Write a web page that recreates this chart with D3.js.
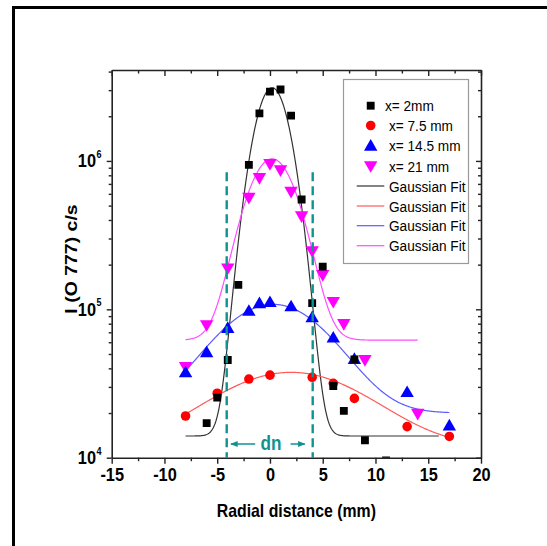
<!DOCTYPE html>
<html><head><meta charset="utf-8">
<script src="https://cdn.jsdelivr.net/npm/d3@7"></script>
<style>body{margin:0;background:#fff} svg{display:block}</style>
</head><body><svg id="chart" width="547" height="546"></svg>
<script>
// Measured emission intensity of O 777 nm versus radial position, four axial distances
const radialX2 = [-6, -5, -4, -3, -2, -1, 0, 1, 2, 3, 4, 5, 6, 7, 8, 9, 11];
const intensityX2 = [1.71e4, 2.54e4, 4.55e4, 1.46e5, 9.4e5, 2.09e6, 2.93e6, 3.03e6, 2.02e6, 5.5e5, 1.1e5, 1.94e5, 3.04e4, 2.07e4, 4.6e4, 1.31e4, 9.6e3];
const radialX75 = [-8, -5, -2, 0, 4, 6, 8, 13, 17];
const intensityX75 = [1.91e4, 2.72e4, 3.39e4, 3.6e4, 3.48e4, 3.17e4, 2.51e4, 1.62e4, 1.39e4];
const radialX145 = [-8, -6, -4, -2, -1, 0, 2, 4, 6, 8, 13, 17];
const intensityX145 = [3.7e4, 5.05e4, 7.36e4, 9.6e4, 1.08e5, 1.1e5, 1.03e5, 8.7e4, 6.34e4, 4.55e4, 2.72e4, 1.62e4];
const radialX21 = [-8, -6, -4, -2, -1, 0, 1, 2, 3, 4, 5, 6, 7, 9, 14];
const intensityX21 = [4.15e4, 7.96e4, 1.92e5, 5.74e5, 7.8e5, 9.7e5, 8.8e5, 6.3e5, 4.31e5, 2.51e5, 1.73e5, 1.14e5, 8.1e4, 4.63e4, 2.01e4];

const seriesLabels = ["x= 2mm", "x= 7.5 mm", "x= 14.5 mm", "x= 21 mm"];
const seriesColors = ["#000000", "#ff0000", "#0000ff", "#ff00ff"];
const fitColors = ["#333333", "#ff5a5a", "#5a5aff", "#ff4dff"];
const fitLabel = "Gaussian Fit";

// Gaussian fit parameters: y = y0 + A * exp(-2 * ((x - xc) / w)^2)
const fitY0 = [1.4e4, 1.2e4, 2.0e4, 6.2e4];
const fitA = [3.1e6, 2.56e4, 8.8e4, 9.7e5];
const fitXc = [0.2, 2.0, 0.3, 0.2];
const fitW = [2.9, 12.9, 9.4, 4.2];
const fitFrom = [-8, -8, -8, -8];
const fitTo = [16, 17, 17, 14];

// Boundaries of the discharge width dn
const dnBounds = [-4.1, 4.05];
const dnTop = 8.4e5;

const xMajor = [-15, -10, -5, 0, 5, 10, 15, 20];
const yMajorExp = [4, 5, 6];

const FONT = "'Liberation Sans', Arial, sans-serif";
const svg = d3.select("#chart");

// outer frame
svg.append("rect").attr("x", 13.5).attr("y", 7.5).attr("width", 560).attr("height", 560)
  .attr("fill", "none").attr("stroke", "#000").attr("stroke-width", 3);

const x = d3.scaleLinear().domain([-15, 20]).range([111.7, 481]);
const y = d3.scaleLog().domain([1e4, 4.1e6]).range([457.7, 70]);
const [X0, X1] = x.range();
const [Y0, Y1] = y.range();

svg.append("clipPath").attr("id", "plotclip").append("rect")
  .attr("x", X0).attr("y", Y1).attr("width", X1 - X0).attr("height", Y0 - Y1);

// axes
const xMinor = d3.range(-15, 20.01, 2.5).filter(v => !xMajor.includes(v));
const yMinor = [];
for (let e = 4; e <= 6; e++) for (let m = 2; m <= 9; m++) { const v = m * Math.pow(10, e); if (v <= 4.1e6) yMinor.push(v); }

function styleAxis(g) {
  g.select(".domain").attr("stroke", "#222").attr("stroke-width", 1.6);
  g.selectAll(".tick line").attr("stroke", "#222").attr("stroke-width", 1.4);
}
const gx = svg.append("g").attr("transform", `translate(0,${Y0})`)
  .call(d3.axisBottom(x).tickValues(xMajor).tickSize(6).tickSizeOuter(0).tickFormat(d => String(d)));
styleAxis(gx);
gx.selectAll(".tick text").attr("font-family", FONT).attr("font-weight", "bold").attr("font-size", 19)
  .attr("fill", "#000").attr("y", 10).attr("dy", "0.71em").attr("transform", "scale(0.86,1)");
svg.append("g").attr("transform", `translate(0,${Y0})`)
  .call(d3.axisBottom(x).tickValues(xMinor).tickSize(3.5).tickFormat("")).call(styleAxis)
  .select(".domain").remove();

const gTop = svg.append("g").attr("transform", `translate(0,${Y1})`)
  .call(d3.axisBottom(x).tickValues(xMajor).tickSize(6).tickSizeOuter(0).tickFormat(""));
styleAxis(gTop);
svg.append("g").attr("transform", `translate(0,${Y1})`)
  .call(d3.axisBottom(x).tickValues(xMinor).tickSize(3.5).tickFormat("")).call(styleAxis)
  .select(".domain").remove();

const gy = svg.append("g").attr("transform", `translate(${X0},0)`)
  .call(d3.axisLeft(y).tickValues(yMajorExp.map(e => Math.pow(10, e))).tickSize(5).tickSizeOuter(0).tickFormat(""));
styleAxis(gy);
svg.append("g").attr("transform", `translate(${X0},0)`)
  .call(d3.axisLeft(y).tickValues(yMinor).tickSize(3).tickFormat("")).call(styleAxis)
  .select(".domain").remove();
const gR = svg.append("g").attr("transform", `translate(${X1},0)`)
  .call(d3.axisLeft(y).tickValues(yMajorExp.map(e => Math.pow(10, e))).tickSize(5).tickSizeOuter(0).tickFormat(""));
styleAxis(gR);
svg.append("g").attr("transform", `translate(${X1},0)`)
  .call(d3.axisLeft(y).tickValues(yMinor).tickSize(3).tickFormat("")).call(styleAxis)
  .select(".domain").remove();

// y tick labels 10^n
yMajorExp.forEach(e => {
  svg.append("text").attr("transform", `translate(96,${y(Math.pow(10, e)) + 6.5}) scale(0.86,1)`)
    .attr("text-anchor", "end").attr("font-family", FONT).attr("font-weight", "bold")
    .attr("font-size", 19).attr("fill", "#000").text("10");
  svg.append("text").attr("transform", `translate(96.5,${y(Math.pow(10, e)) - 3}) scale(0.86,1)`)
    .attr("font-family", FONT).attr("font-weight", "bold").attr("font-size", 10.5).attr("fill", "#000").text(e);
});

// axis titles
svg.append("text").attr("transform", `translate(${(X0 + X1) / 2},517) scale(0.88,1)`)
  .attr("text-anchor", "middle").attr("font-family", FONT).attr("font-weight", "bold")
  .attr("font-size", 18).attr("fill", "#000").text("Radial distance (mm)");
svg.append("text").attr("transform", `translate(77,259) scale(0.86,1) rotate(-90)`)
  .attr("text-anchor", "middle").attr("font-family", FONT).attr("font-weight", "bold")
  .attr("font-size", 19.5).attr("fill", "#000").text("I (O 777) c/s");

const plot = svg.append("g").attr("clip-path", "url(#plotclip)");

// Gaussian fit curves
const line = d3.line().x(d => x(d[0])).y(d => y(d[1]));
fitY0.forEach((y0, i) => {
  const pts = d3.range(fitFrom[i], fitTo[i] + 1e-9, 0.05).map(v =>
    [v, y0 + fitA[i] * Math.exp(-2 * Math.pow((v - fitXc[i]) / fitW[i], 2))]);
  plot.append("path").attr("d", line(pts)).attr("fill", "none")
    .attr("stroke", fitColors[i]).attr("stroke-width", 1.2);
});

// markers
const symbols = [d3.symbolSquare, d3.symbolCircle, d3.symbolTriangle, d3.symbolTriangle];
const symSizes = [62, 72, 78, 78];
const rots = [0, 0, 0, 180];
const radials = [radialX2, radialX75, radialX145, radialX21];
const intens = [intensityX2, intensityX75, intensityX145, intensityX21];
function marker(g, i, px, py) {
  g.append("path").attr("d", d3.symbol().type(symbols[i]).size(symSizes[i])())
    .attr("transform", `translate(${px},${py}) rotate(${rots[i]})`).attr("fill", seriesColors[i]);
}
[3, 2, 1, 0].forEach(i => {
  radials[i].forEach((v, k) => marker(plot, i, x(v), y(intens[i][k])));
});

// dn boundaries
const teal = "#11928f";
dnBounds.forEach(v => {
  svg.append("line").attr("x1", x(v)).attr("x2", x(v)).attr("y1", y(dnTop)).attr("y2", Y0)
    .attr("stroke", teal).attr("stroke-width", 2.4).attr("stroke-dasharray", "9,5");
});
svg.append("defs").append("marker").attr("id", "arrowhead").attr("viewBox", "0 0 10 10")
  .attr("refX", 9).attr("refY", 5).attr("markerWidth", 5).attr("markerHeight", 5).attr("orient", "auto")
  .append("path").attr("d", "M0,1 L10,5 L0,9 Z").attr("fill", teal);
svg.append("line").attr("x1", x(-1.4)).attr("x2", x(-3.7)).attr("y1", 444).attr("y2", 444)
  .attr("stroke", teal).attr("stroke-width", 1.5).attr("marker-end", "url(#arrowhead)");
svg.append("line").attr("x1", x(1.95)).attr("x2", x(3.3)).attr("y1", 444).attr("y2", 444)
  .attr("stroke", teal).attr("stroke-width", 1.5).attr("marker-end", "url(#arrowhead)");
svg.append("text").attr("transform", `translate(${x(0.1)},450) scale(0.86,1)`).attr("text-anchor", "middle")
  .attr("font-family", FONT).attr("font-weight", "bold").attr("font-size", 20).attr("fill", teal).text("dn");

// legend
const lg = svg.append("g");
lg.append("rect").attr("x", 343.5).attr("y", 79.5).attr("width", 125).attr("height", 184)
  .attr("fill", "#fff").attr("stroke", "#999").attr("stroke-width", 1.2);
const rowY = [105.7, 125.5, 145.8, 166, 186, 206, 225.7, 245.7];
seriesLabels.forEach((lab, i) => {
  marker(lg, i, 370.7, rowY[i] + (i === 2 ? 1 : i === 3 ? -1 : 0));
  lg.append("text").attr("transform", `translate(${i === 0 ? 385 : 389},${rowY[i] + 5.5}) scale(0.88,1)`)
    .attr("font-family", FONT).attr("font-size", 15.5).attr("fill", "#000").text(lab);
});
fitColors.forEach((c, i) => {
  const ry = rowY[4 + i];
  lg.append("line").attr("x1", 356.7).attr("x2", 384.3).attr("y1", ry).attr("y2", ry)
    .attr("stroke", c).attr("stroke-width", 1.2);
  lg.append("text").attr("transform", `translate(389,${ry + 5.5}) scale(0.88,1)`)
    .attr("font-family", FONT).attr("font-size", 15.5).attr("fill", "#000").text(fitLabel);
});
</script>
</body></html>
